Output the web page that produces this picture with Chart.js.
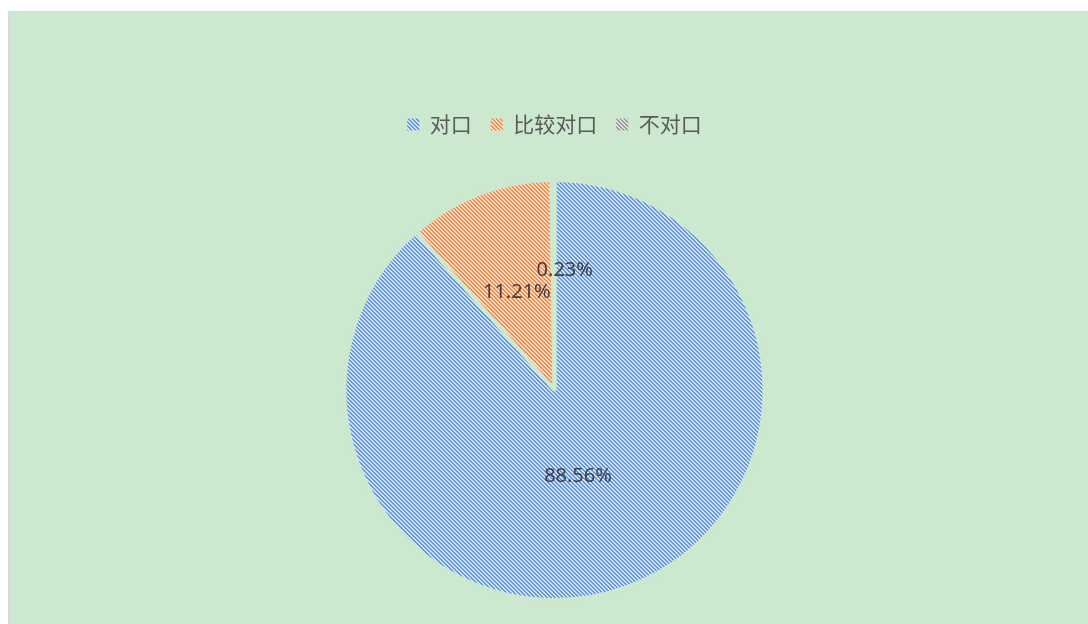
<!DOCTYPE html>
<html>
<head>
<meta charset="utf-8">
<script src="https://cdn.jsdelivr.net/npm/chart.js@4"></script>
<style>
  html, body { margin: 0; padding: 0; background: #fff; }
  #box {
    position: absolute; left: 8px; top: 11px; width: 1080px; height: 613px;
    background: #cce8cf; border-left: 1px solid #d9d9d9; border-top: 1px solid #d9d9d9;
    box-sizing: border-box;
  }
</style>
</head>
<body>
<div id="box"><canvas id="c"></canvas></div>
<script>
/* data */
const labels = ['对口', '比较对口', '不对口'];
const values = [88.56, 11.21, 0.23];
const lineColors = ['#6497d8', '#f08d4f', '#999999'];
const baseColors = ['#d2e2f6', '#fcdcc6', '#e0e0e0'];

const BG = '#cce8cf';

/* diagonal hatch tile, "\" direction */
function hatch(base, line) {
  const s = 4, c = document.createElement('canvas');
  c.width = s; c.height = s;
  const x = c.getContext('2d');
  x.fillStyle = base; x.fillRect(0, 0, s, s);
  x.fillStyle = line;
  for (let i = 0; i < s; i++)
    for (let j = 0; j < s; j++)
      if (((i - j) % s + s) % s < 2) x.fillRect(i, j, 1, 1);
  return x.createPattern(c, 'repeat');
}
const patterns = labels.map((_, i) => hatch(baseColors[i], lineColors[i]));

/* percent labels drawn inside the pie */
const pctLabels = {
  id: 'pctLabels',
  beforeLayout(chart) {
    // extra gap under the legend
    const lg = chart.legend;
    if (lg && !lg._gapPatched) {
      const fit = lg.fit.bind(lg);
      lg.fit = function () { fit(); this.height += 11; };
      lg._gapPatched = true;
    }
  },
  afterDatasetsDraw(chart) {
    const ctx = chart.ctx, meta = chart.getDatasetMeta(0);
    const nudge = [[-9, 0], [0, 0], [11, -15]];
    ctx.save();
    ctx.font = '20px "Noto Sans", sans-serif';
    ctx.fillStyle = '#404040';
    ctx.textAlign = 'center';
    ctx.textBaseline = 'middle';
    meta.data.forEach((arc, i) => {
      const { x, y, startAngle, endAngle, outerRadius } = arc.getProps(['x', 'y', 'startAngle', 'endAngle', 'outerRadius'], true);
      const mid = (startAngle + endAngle) / 2;
      const f = i === 0 ? 0.44 : 0.5;
      const px = x + Math.cos(mid) * outerRadius * f + nudge[i][0];
      const py = y + Math.sin(mid) * outerRadius * f + nudge[i][1];
      ctx.fillText(values[i].toFixed(2) + '%', px, py);
    });
    ctx.restore();
  }
};

new Chart(document.getElementById('c'), {
  type: 'pie',
  data: {
    labels,
    datasets: [{
      data: values,
      backgroundColor: patterns,
      borderColor: BG,
      borderWidth: 4,
      radius: 210
    }]
  },
  options: {
    responsive: true,
    maintainAspectRatio: false,
    animation: false,
    layout: { padding: { left: 12, top: 83, bottom: 0 } },
    plugins: {
      tooltip: { enabled: false },
      legend: {
        position: 'top',
        labels: {
          color: '#595959',
          font: { size: 21, family: '"Noto Sans CJK SC", sans-serif' },
          boxWidth: 12, boxHeight: 12, padding: 19,
          generateLabels(chart) {
            return Chart.overrides.pie.plugins.legend.labels.generateLabels(chart)
              .map(l => ({ ...l, lineWidth: 0, strokeStyle: 'transparent' }));
          }
        }
      }
    }
  },
  plugins: [pctLabels]
});
</script>
</body>
</html>
